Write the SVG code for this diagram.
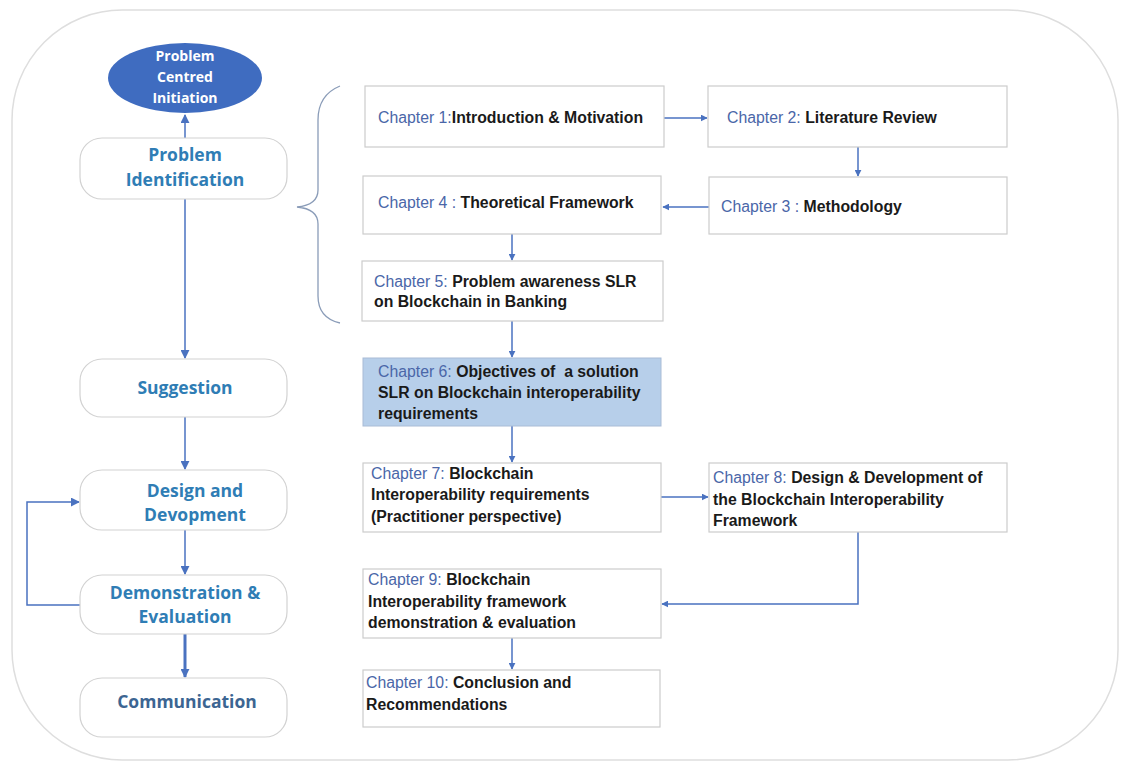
<svg xmlns="http://www.w3.org/2000/svg" width="1126" height="764" viewBox="0 0 1126 764">
<style>
.stage{fill:#fff;stroke:#d2d2d2;stroke-width:1.2}
.stxt{font-family:"Open Sans","Liberation Sans",sans-serif;font-size:17.5px;font-weight:bold;fill:#2F7DB5;text-anchor:middle}
.ch{fill:#fff;stroke:#cccccc;stroke-width:1.2}
.ctxt{font-family:"Liberation Sans",Arial,sans-serif;font-size:15.8px;font-weight:bold;fill:#1a1a1a}
.lab{fill:#4A66A8;font-weight:normal}
.con{fill:none;stroke:#4A72C0;stroke-width:1.5}
.ini{font-family:"Open Sans","Liberation Sans",sans-serif;font-size:14px;font-weight:bold;fill:#fff;text-anchor:middle}
</style>
<defs>
<marker id="ah" viewBox="0 0 10 10" refX="9" refY="5" markerWidth="7" markerHeight="7" orient="auto" markerUnits="userSpaceOnUse">
<path d="M0,0 L10,5 L0,10 z" fill="#4A72C0"/>
</marker>
<marker id="ahb" viewBox="0 0 10 10" refX="9" refY="5" markerWidth="9" markerHeight="9" orient="auto" markerUnits="userSpaceOnUse">
<path d="M0,0 L10,5 L0,10 z" fill="#4A72C0"/>
</marker>
</defs>
<rect x="12" y="10" width="1106" height="750" rx="110" ry="110" fill="#fff" stroke="#dedede" stroke-width="1.5"/>

<g id="connectors">
<line class="con" x1="185" y1="139" x2="185" y2="115" marker-end="url(#ahb)"/>
<line class="con" x1="185" y1="199" x2="185" y2="358" marker-end="url(#ahb)"/>
<line class="con" x1="185" y1="417" x2="185" y2="469" marker-end="url(#ahb)"/>
<line class="con" x1="185" y1="530" x2="185" y2="574" marker-end="url(#ahb)"/>
<line class="con" x1="185" y1="634" x2="185" y2="677" marker-end="url(#ahb)" style="stroke-width:3"/>
<polyline class="con" points="80,605 27,605 27,502 79,502" marker-end="url(#ahb)"/>
<line class="con" x1="664" y1="118" x2="707" y2="118" marker-end="url(#ah)"/>
<line class="con" x1="858" y1="147" x2="858" y2="176" marker-end="url(#ah)"/>
<line class="con" x1="709" y1="207" x2="663" y2="207" marker-end="url(#ah)"/>
<line class="con" x1="512" y1="234" x2="512" y2="260" marker-end="url(#ah)"/>
<line class="con" x1="512" y1="321" x2="512" y2="357" marker-end="url(#ah)"/>
<line class="con" x1="512" y1="426" x2="512" y2="462" marker-end="url(#ah)"/>
<line class="con" x1="661" y1="497" x2="708" y2="497" marker-end="url(#ah)"/>
<polyline class="con" points="858,532 858,604 662,604" marker-end="url(#ah)"/>
<line class="con" x1="512" y1="638" x2="512" y2="669" marker-end="url(#ah)"/>
<path d="M340,86 Q318,95 318,120 L318,190 Q318,205 297,207 Q318,209 318,224 L318,296 Q318,318 340,323" fill="none" stroke="#8A9CB8" stroke-width="1.3"/>
</g>

<g id="initiation">
<ellipse cx="185" cy="78" rx="77" ry="35" fill="#3F6CC0"/>
<text class="ini" x="185" y="61">Problem</text>
<text class="ini" x="185" y="82">Centred</text>
<text class="ini" x="185" y="103">Initiation</text>
</g>
<g id="problem-identification">
<rect class="stage" x="80" y="138" width="207" height="61" rx="22"/>
<text class="stxt" x="185" y="161">Problem</text>
<text class="stxt" x="185" y="186">Identification</text>
</g>
<g id="suggestion">
<rect class="stage" x="80" y="359" width="207" height="58" rx="22"/>
<text class="stxt" x="185" y="394">Suggestion</text>
</g>
<g id="design">
<rect class="stage" x="80" y="470" width="207" height="60" rx="22"/>
<text class="stxt" x="195" y="497">Design and</text>
<text class="stxt" x="195" y="521">Devopment</text>
</g>
<g id="demonstration">
<rect class="stage" x="80" y="575" width="207" height="59" rx="22"/>
<text class="stxt" x="185" y="599">Demonstration &amp;</text>
<text class="stxt" x="185" y="623">Evaluation</text>
</g>
<g id="communication">
<rect class="stage" x="80" y="678" width="207" height="59" rx="22"/>
<text class="stxt" x="187" y="708" style="fill:#3C6592">Communication</text>
</g>

<g id="ch1">
<rect class="ch" x="365" y="86" width="299" height="61"/>
<text class="ctxt" x="378" y="123"><tspan class="lab">Chapter 1:</tspan>Introduction &amp; Motivation</text>
</g>
<g id="ch2">
<rect class="ch" x="708" y="86" width="299" height="61"/>
<text class="ctxt" x="727" y="123"><tspan class="lab">Chapter 2: </tspan>Literature Review</text>
</g>
<g id="ch3">
<rect class="ch" x="709" y="177" width="298" height="57"/>
<text class="ctxt" x="721" y="212"><tspan class="lab">Chapter 3 : </tspan>Methodology</text>
</g>
<g id="ch4">
<rect class="ch" x="363" y="176" width="298" height="58"/>
<text class="ctxt" x="378" y="208"><tspan class="lab">Chapter 4 : </tspan>Theoretical Framework</text>
</g>
<g id="ch5">
<rect class="ch" x="362" y="261" width="301" height="60"/>
<text class="ctxt" x="374" y="287"><tspan class="lab">Chapter 5: </tspan>Problem awareness SLR</text>
<text class="ctxt" x="374" y="307">on Blockchain in Banking</text>
</g>
<g id="ch6">
<rect x="363" y="358" width="298" height="68" fill="#B7CFEA" stroke="#a9bcd6" stroke-width="1"/>
<text class="ctxt" x="378" y="377"><tspan class="lab">Chapter 6: </tspan>Objectives of&#160; a solution</text>
<text class="ctxt" x="378" y="398">SLR on Blockchain interoperability</text>
<text class="ctxt" x="378" y="419">requirements</text>
</g>
<g id="ch7">
<rect class="ch" x="363" y="463" width="298" height="69"/>
<text class="ctxt" x="371" y="479"><tspan class="lab">Chapter 7: </tspan>Blockchain</text>
<text class="ctxt" x="371" y="500">Interoperability requirements</text>
<text class="ctxt" x="371" y="522">(Practitioner perspective)</text>
</g>
<g id="ch8">
<rect class="ch" x="709" y="463" width="298" height="69"/>
<text class="ctxt" x="713" y="483"><tspan class="lab">Chapter 8: </tspan>Design &amp; Development of</text>
<text class="ctxt" x="713" y="505">the Blockchain Interoperability</text>
<text class="ctxt" x="713" y="526">Framework</text>
</g>
<g id="ch9">
<rect class="ch" x="363" y="569" width="298" height="69"/>
<text class="ctxt" x="368" y="585"><tspan class="lab">Chapter 9: </tspan>Blockchain</text>
<text class="ctxt" x="368" y="607">Interoperability framework</text>
<text class="ctxt" x="368" y="628">demonstration &amp; evaluation</text>
</g>
<g id="ch10">
<rect class="ch" x="363" y="670" width="297" height="57"/>
<text class="ctxt" x="366" y="688"><tspan class="lab">Chapter 10: </tspan>Conclusion and</text>
<text class="ctxt" x="366" y="710">Recommendations</text>
</g>
</svg>
